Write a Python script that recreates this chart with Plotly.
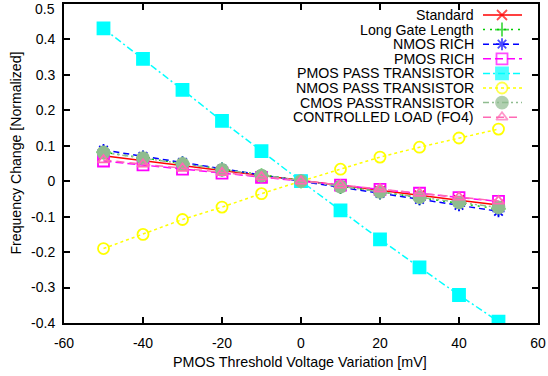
import plotly.graph_objects as go

vth = [-50, -40, -30, -20, -10, 0, 10, 20, 30, 40, 50]

standard = [0.072, 0.058, 0.043, 0.029, 0.014, 0.0, -0.014, -0.028, -0.041, -0.054, -0.067]
long_gate = [0.082, 0.066, 0.050, 0.033, 0.016, 0.0, -0.016, -0.032, -0.048, -0.063, -0.078]
nmos_rich = [0.088, 0.070, 0.053, 0.035, 0.017, 0.0, -0.017, -0.034, -0.051, -0.068, -0.085]
pmos_rich = [0.057, 0.046, 0.034, 0.023, 0.011, 0.0, -0.011, -0.023, -0.034, -0.046, -0.057]
pmos_pass = [0.431, 0.345, 0.258, 0.170, 0.085, 0.0, -0.082, -0.164, -0.243, -0.321, -0.396]
nmos_pass = [-0.190, -0.150, -0.108, -0.073, -0.035, 0.0, 0.034, 0.068, 0.096, 0.122, 0.147]
cmos_pass = [0.081, 0.065, 0.049, 0.032, 0.016, 0.0, -0.015, -0.030, -0.045, -0.060, -0.074]
ctrl_load = [0.060, 0.048, 0.036, 0.024, 0.012, 0.0, -0.011, -0.022, -0.034, -0.045, -0.056]

names = ["Standard", "Long Gate Length", "NMOS RICH", "PMOS RICH",
         "PMOS PASS TRANSISTOR", "NMOS PASS TRANSISTOR", "CMOS PASSTRANSISTOR",
         "CONTROLLED LOAD (FO4)"]
series = [standard, long_gate, nmos_rich, pmos_rich, pmos_pass, nmos_pass, cmos_pass, ctrl_load]

x_ticks = [-60, -40, -20, 0, 20, 40, 60]
x_ticktext = ["-60", "-40", "-20", "0", "20", "40", "60"]
y_ticks = [-0.4, -0.3, -0.2, -0.1, 0, 0.1, 0.2, 0.3, 0.4, 0.5]
y_ticktext = ["-0.4", "-0.3", "-0.2", "-0.1", "0", "0.1", "0.2", "0.3", "0.4", "0.5"]

colors = ["#ff0000", "#00cc00", "#0000ff", "#ff00ff", "#00ffff", "#ffff00", "#8fbc8f", "#ff69b4"]
symbols = ["x-thin-open", "cross-thin-open", "asterisk-open", "square-open", "square",
           "circle-open", "circle", "triangle-up-open"]
dashes = ["solid", "2px,5px", "6px,4px", "8px,4px", "7px,3px,2px,3px", "3px,3px",
          "6px,3px,2px,3px,2px,3px", "8px,5px"]
msizes = [10, 10, 10, 11, 12, 11, 12, 10]

FONT = "Liberation Sans, Arial, sans-serif"
W, H = 548, 376
L, R, T, B = 64, 10, 4, 53
PW, PH = W - L - R, H - T - B

fig = go.Figure()
for nm, ys, c, s, d, ms in zip(names, series, colors, symbols, dashes, msizes):
    fig.add_trace(go.Scatter(
        x=vth, y=ys, mode="lines+markers", name=nm,
        line=dict(color=c, width=1.5, dash=d),
        marker=dict(symbol=s, size=ms, color=c, line=dict(color=c, width=1.8)),
        showlegend=False))

# gnuplot-style key (text right-aligned, sample on the right), in pixel space
def px_x(p):
    return (p - L) / PW

def px_y(p):
    return (H - B - p) / PH

row0, dy = 15.0, 14.6
x0, xm, x1 = px_x(483), px_x(502), px_x(522)
text_right = px_x(475)
annotations = []
for i, (nm, c, s, d, ms) in enumerate(zip(names, colors, symbols, dashes, msizes)):
    yy = px_y(row0 + i * dy)
    fig.add_trace(go.Scatter(
        x=[x0, xm, x1], y=[yy, yy, yy], mode="lines+markers",
        line=dict(color=c, width=1.5, dash=d),
        marker=dict(symbol=s, size=[0, ms, 0], color=c, line=dict(color=c, width=1.8)),
        xaxis="x2", yaxis="y2", showlegend=False, hoverinfo="skip"))
    annotations.append(dict(x=text_right, y=yy, xref="paper", yref="paper",
                            text=nm, showarrow=False, xanchor="right", yanchor="middle",
                            borderpad=0,
                            font=dict(family=FONT, size=14.2, color="black")))

annotations.append(dict(x=px_x(300), y=px_y(362),
                        xref="paper", yref="paper", text="PMOS Threshold Voltage Variation [mV]",
                        showarrow=False, xanchor="center", yanchor="middle",
                        font=dict(family=FONT, size=14.3, color="black")))
annotations.append(dict(x=px_x(16), y=px_y(153.5), xref="paper", yref="paper",
                        text="Frequency Change [Normalized]", textangle=-90,
                        showarrow=False, xanchor="center", yanchor="middle",
                        font=dict(family=FONT, size=14.1, color="black")))
# top y tick label: nudged down (as in the reference) so it is not clipped
annotations.append(dict(x=px_x(56), y=px_y(9), xref="paper", yref="paper",
                        text=y_ticktext[-1], showarrow=False, xanchor="right",
                        yanchor="middle", borderpad=0,
                        font=dict(family=FONT, size=14, color="black")))
y_ticktext_axis = y_ticktext[:-1] + [""]

axis_common = dict(showline=True, linecolor="black", linewidth=2, mirror="allticks",
                   ticks="inside", ticklen=6, tickwidth=1.5, tickcolor="black",
                   showgrid=False, zeroline=False,
                   tickfont=dict(family=FONT, size=14, color="black"))

fig.update_layout(
    width=W, height=H,
    margin=dict(l=L, r=R, t=T, b=B, autoexpand=False),
    paper_bgcolor="white", plot_bgcolor="white",
    xaxis=dict(range=[-60, 60], tickvals=x_ticks, ticktext=x_ticktext,
               ticklabelstandoff=6, **axis_common),
    yaxis=dict(range=[-0.4, 0.5], tickvals=y_ticks, ticktext=y_ticktext_axis,
               ticklabelstandoff=4, **axis_common),
    xaxis2=dict(range=[0, 1], overlaying="x", visible=False, fixedrange=True),
    yaxis2=dict(range=[0, 1], overlaying="y", visible=False, fixedrange=True),
    annotations=annotations,
    showlegend=False,
)

fig.write_html("out.html", config={"displayModeBar": False},
               post_script="document.body.style.margin='0';document.body.style.padding='0';")
